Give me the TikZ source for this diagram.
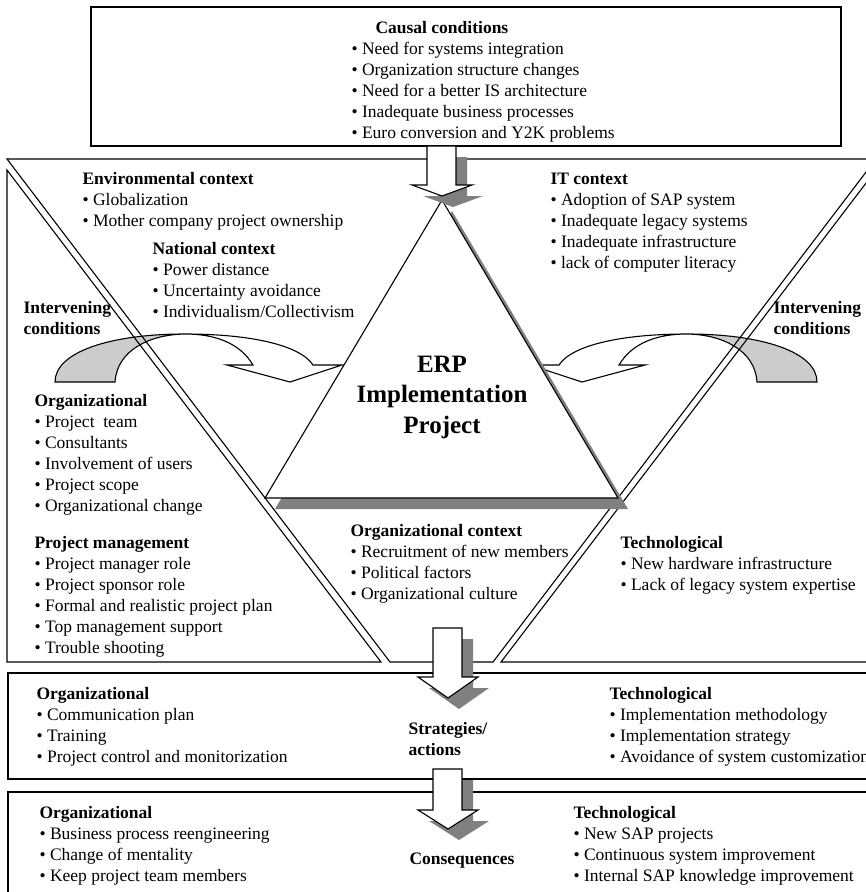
\documentclass[tikz,border=0pt]{standalone}
\usepackage{fontspec}
\setmainfont{Liberation Serif}
\usetikzlibrary{calc}

\definecolor{shadowgray}{RGB}{128,128,128}
\definecolor{backgray}{RGB}{204,204,204}
\newcommand{\bul}{\textbullet\ }

\begin{document}
\begin{tikzpicture}[x=1pt, y=-1pt, line width=1.1pt, line join=miter,
	every node/.style={font=\fontsize{17.5}{21}\selectfont},
	txt/.style={anchor=base west, inner sep=0pt}]

	\useasboundingbox (0,0) rectangle (866,892);
	\clip (0,0) rectangle (866,892);

	% curved arrows of the intervening conditions (right one is mirrored)
	\foreach \s/\o in {1/0, -1/872} {
	\begin{scope}[xshift=\o, xscale=\s]
		\draw[fill=backgray] (55,382) .. controls (55,352) and (110,334) .. (185,334)
			.. controls (150,334.5) and (117,350) .. (115,382) -- cycle;
		\draw[fill=white] (185,334) .. controls (250,334) and (300,345) .. (313,365)
			-- (342,365) -- (290,382) -- (227,365) -- (253,365)
			.. controls (240,343) and (215,334) .. (185,334) -- cycle;
	\end{scope}
	}

	% causal conditions box
	\draw[line width=1.3pt] (91,7) rectangle (841,146);

	% middle part: context area between the two columns
	\draw (7,159) -- (876,159) -- (493,662) -- (390,662) -- cycle;
	\draw (7,170) -- (381,662) -- (7,662) -- cycle;
	\draw (501,662) -- (876,170) -- (900,170) -- (900,662) -- cycle;

	% strategies and consequences boxes
	\draw[line width=1.3pt] (8,673) rectangle (900,779);
	\draw[line width=1.3pt] (8,792) rectangle (900,900);

	% the project triangle with its shadow
	\coordinate (apex) at (442,200);
	\coordinate (bl) at (265,498);
	\coordinate (br) at (618,498);
	\fill[shadowgray] ([shift={(10,11)}]apex) -- ([shift={(10,11)}]bl) -- ([shift={(10,11)}]br) -- cycle;
	\draw[fill=white] (apex) -- (bl) -- (br) -- cycle;

	% block arrows going down
	\foreach \dx/\t/\h/\p in {-6/146/185/196, 0/628/677/698, 0/769/810/829} {
	\begin{scope}[xshift=\dx]
		\fill[shadowgray, shift={(11,11)}] (433,\t) -- (462,\t) -- (462,\h) -- (478,\h)
			-- (448,\p) -- (418,\h) -- (433,\h) -- cycle;
		\draw[fill=white] (433,\t) -- (462,\t) -- (462,\h) -- (478,\h)
			-- (448,\p) -- (418,\h) -- (433,\h) -- cycle;
	\end{scope}
	}

	% texts
	\node[txt] (causal) at (351,33) {\begin{tabular}[t]{@{}l@{}}
		\hspace*{24pt}\textbf{Causal conditions}\\
		\bul Need for systems integration\\
		\bul Organization structure changes\\
		\bul Need for a better IS architecture\\
		\bul Inadequate business processes\\
		\bul Euro conversion and Y2K problems
	\end{tabular}};

	\node[txt] (envctx) at (82,184) {\begin{tabular}[t]{@{}l@{}}
		\textbf{Environmental context}\\
		\bul Globalization\\
		\bul Mother company project ownership
	\end{tabular}};

	\node[txt] (natctx) at (152,254) {\begin{tabular}[t]{@{}l@{}}
		\textbf{National context}\\
		\bul Power distance\\
		\bul Uncertainty avoidance\\
		\bul Individualism/Collectivism
	\end{tabular}};

	\node[txt] (itctx) at (550,184) {\begin{tabular}[t]{@{}l@{}}
		\textbf{IT context}\\
		\bul Adoption of SAP system\\
		\bul Inadequate legacy systems\\
		\bul Inadequate infrastructure\\
		\bul lack of computer literacy
	\end{tabular}};

	\node[txt] (intervL) at (23,313) {\begin{tabular}[t]{@{}l@{}}
		\textbf{Intervening}\\
		\textbf{conditions}
	\end{tabular}};

	\node[txt] (intervR) at (773,313) {\begin{tabular}[t]{@{}l@{}}
		\textbf{Intervening}\\
		\textbf{conditions}
	\end{tabular}};

	\node[font=\fontsize{25}{30.5}\selectfont\bfseries, align=center] (erp) at (442,397)
		{ERP\\Implementation\\Project};

	\node[txt] (orgL) at (34,406) {\begin{tabular}[t]{@{}l@{}}
		\textbf{Organizational}\\
		\bul Project\ \ team\\
		\bul Consultants\\
		\bul Involvement of users\\
		\bul Project scope\\
		\bul Organizational change
	\end{tabular}};

	\node[txt] (pmL) at (34,548) {\begin{tabular}[t]{@{}l@{}}
		\textbf{Project management}\\
		\bul Project manager role\\
		\bul Project sponsor role\\
		\bul Formal and realistic project plan\\
		\bul Top management support\\
		\bul Trouble shooting
	\end{tabular}};

	\node[txt] (orgctx) at (350,536) {\begin{tabular}[t]{@{}l@{}}
		\textbf{Organizational context}\\
		\bul Recruitment of new members\\
		\bul Political factors\\
		\bul Organizational culture
	\end{tabular}};

	\node[txt] (techR) at (620,548) {\begin{tabular}[t]{@{}l@{}}
		\textbf{Technological}\\
		\bul New hardware infrastructure\\
		\bul Lack of legacy system expertise
	\end{tabular}};

	\node[txt] (orgS) at (36,699) {\begin{tabular}[t]{@{}l@{}}
		\textbf{Organizational}\\
		\bul Communication plan\\
		\bul Training\\
		\bul Project control and monitorization
	\end{tabular}};

	\node[txt] (strat) at (408,734) {\begin{tabular}[t]{@{}l@{}}
		\textbf{Strategies/}\\
		\textbf{actions}
	\end{tabular}};

	\node[txt] (techS) at (609,699) {\begin{tabular}[t]{@{}l@{}}
		\textbf{Technological}\\
		\bul Implementation methodology\\
		\bul Implementation strategy\\
		\bul Avoidance of system customization
	\end{tabular}};

	\node[txt] (orgC) at (39,818) {\begin{tabular}[t]{@{}l@{}}
		\textbf{Organizational}\\
		\bul Business process reengineering\\
		\bul Change of mentality\\
		\bul Keep project team members
	\end{tabular}};

	\node[txt] (conseq) at (409,864) {\textbf{Consequences}};

	\node[txt] (techC) at (573,818) {\begin{tabular}[t]{@{}l@{}}
		\textbf{Technological}\\
		\bul New SAP projects\\
		\bul Continuous system improvement\\
		\bul Internal SAP knowledge improvement
	\end{tabular}};

\end{tikzpicture}
\end{document}
